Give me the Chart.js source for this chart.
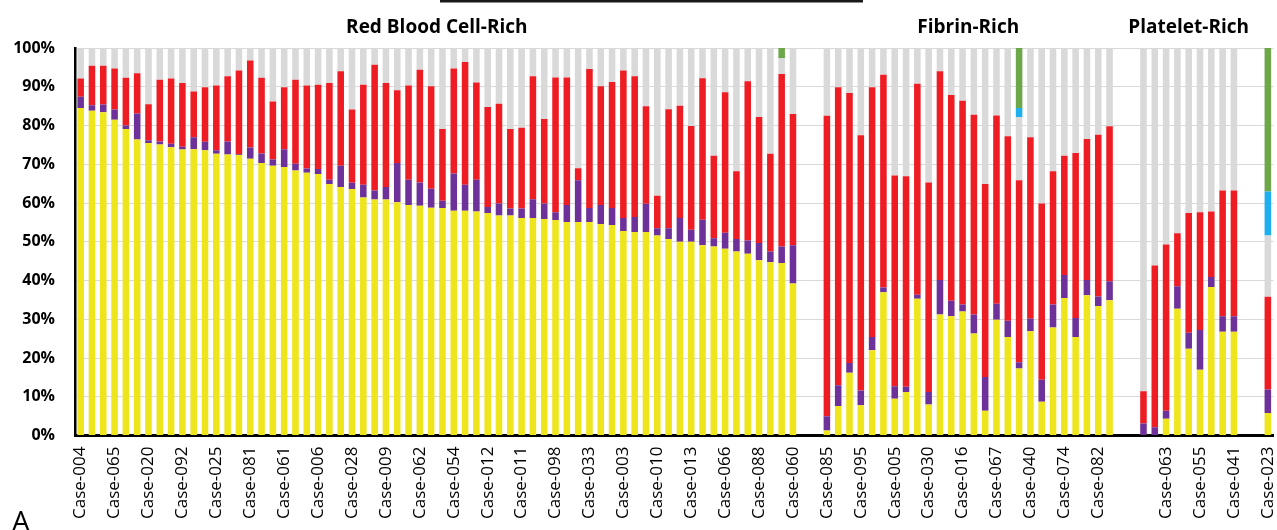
<!DOCTYPE html>
<html>
<head>
<meta charset="utf-8">
<script src="https://cdn.jsdelivr.net/npm/chart.js@4.4.0/dist/chart.umd.min.js"></script>
<style>
  html, body { margin: 0; padding: 0; background: #fff; }
  #wrap { width: 1277px; height: 530px; }
</style>
</head>
<body>
<div id="wrap"><canvas id="grafico" width="1277" height="530"></canvas></div>
<script>
// Colours
const COR_AMARELO = '#EFE51C';
const COR_ROXO = '#6E3199';
const COR_VERMELHO = '#EE1D24';
const COR_CINZA = '#D9D9D9';
const COR_AZUL = '#1EB0EE';
const COR_VERDE = '#6EA64A';

// Red Blood Cell-Rich (64 cases)
const rbcAmarelo = [84.5, 83.8, 83.4, 81.5, 79.1, 76.4, 75.5, 75.1, 74.4, 73.8,
    73.9, 73.6, 72.7, 72.5, 72.4, 71.4, 70.3, 69.6, 69.3, 68.4,
    67.8, 67.5, 64.9, 64.1, 63.6, 61.4, 60.9, 60.9, 60.2, 59.5,
    59.3, 58.8, 58.7, 58.0, 58.0, 57.8, 57.4, 56.8, 56.8, 56.1,
    56.1, 55.9, 55.6, 55.1, 55.1, 55.1, 54.6, 54.3, 52.8, 52.5,
    52.5, 51.6, 50.7, 50.0, 50.0, 49.1, 48.8, 48.2, 47.5, 46.9,
    45.2, 44.7, 44.5, 39.2];
const rbcRoxo = [2.9, 1.4, 2.0, 2.6, 0.9, 6.7, 0.7, 0.8, 0.9, 0.7,
    3.1, 2.2, 0.9, 3.4, 0.2, 2.9, 2.5, 1.6, 4.6, 1.7,
    1.1, 1.3, 1.1, 5.5, 1.6, 3.3, 2.3, 3.2, 10.1, 6.5,
    6.0, 4.9, 1.9, 9.6, 6.7, 8.2, 1.6, 3.1, 1.8, 2.5,
    4.9, 4.0, 2.0, 4.4, 10.8, 3.6, 4.9, 4.4, 3.3, 3.9,
    7.3, 1.9, 2.8, 6.1, 3.1, 6.6, 2.1, 4.1, 3.2, 3.4,
    4.5, 2.8, 4.3, 9.9];
const rbcVermelho = [4.7, 10.2, 10.0, 10.6, 12.3, 10.4, 9.3, 15.9, 16.8, 16.5,
    11.8, 14.1, 16.7, 16.8, 21.6, 22.5, 19.5, 15.0, 16.0, 21.7,
    21.4, 21.7, 25.0, 24.4, 18.9, 25.8, 32.5, 26.9, 18.8, 24.3,
    29.1, 26.4, 18.5, 27.1, 31.7, 25.1, 25.8, 25.7, 20.5, 20.8,
    31.7, 21.8, 34.8, 32.9, 3.1, 35.9, 30.6, 32.5, 38.1, 36.3,
    25.2, 8.4, 30.7, 29.0, 26.8, 36.5, 21.3, 36.3, 17.5, 41.1,
    32.5, 25.2, 44.5, 33.9];
const rbcAzul = Array(64).fill(0);
const rbcVerde = [0, 0, 0, 0, 0, 0, 0, 0, 0, 0, 0, 0, 0, 0, 0, 0, 0, 0, 0, 0,
    0, 0, 0, 0, 0, 0, 0, 0, 0, 0, 0, 0, 0, 0, 0, 0, 0, 0, 0, 0,
    0, 0, 0, 0, 0, 0, 0, 0, 0, 0, 0, 0, 0, 0, 0, 0, 0, 0, 0, 0,
    0, 0, 2.6, 0];

// Fibrin-Rich (26 cases)
const fibAmarelo = [1.3, 7.6, 16.2, 7.8, 22.0, 37.0, 9.5, 11.2, 35.3, 8.0,
    31.2, 30.8, 32.0, 26.3, 6.4, 29.9, 25.4, 17.3, 26.9, 8.7,
    27.9, 35.5, 25.4, 36.2, 33.4, 34.9];
const fibRoxo = [3.7, 5.4, 2.5, 3.8, 3.4, 1.2, 3.2, 1.4, 1.0, 3.2,
    8.9, 4.0, 1.8, 4.9, 8.7, 4.1, 4.2, 1.6, 3.2, 5.7,
    5.9, 5.9, 4.9, 3.9, 2.5, 4.9];
const fibVermelho = [77.5, 76.9, 69.7, 65.9, 64.5, 54.9, 54.4, 54.3, 54.5, 54.1,
    53.9, 53.1, 52.6, 51.6, 49.8, 48.6, 47.6, 47.0, 46.9, 45.5,
    34.4, 30.8, 42.6, 36.4, 41.7, 40.0];
const fibAzul = [0, 0, 0, 0, 0, 0, 0, 0, 0, 0, 0, 0, 0, 0, 0, 0, 0, 2.3, 0, 0,
    0, 0, 0, 0, 0, 0];
const fibVerde = [0, 0, 0, 0, 0, 0, 0, 0, 0, 0, 0, 0, 0, 0, 0, 0, 0, 15.5, 0, 0,
    0, 0, 0, 0, 0, 0];

// Platelet-Rich (9 cases) + Case-023 placed apart
const plaAmarelo = [0, 0, 4.3, 32.7, 22.4, 17.0, 38.3, 26.8, 26.8];
const plaRoxo = [3.1, 2.1, 2.1, 5.8, 4.1, 10.2, 2.6, 4.0, 4.0];
const plaVermelho = [8.3, 41.8, 42.9, 13.7, 30.9, 30.4, 16.9, 32.4, 32.4];
const plaAzul = [0, 0, 0, 0, 0, 0, 0, 0, 0];
const plaVerde = [0, 0, 0, 0, 0, 0, 0, 0, 0];

const extraAmarelo = [5.8];
const extraRoxo = [6.1];
const extraVermelho = [23.9];
const extraAzul = [11.4];
const extraVerde = [37.0];

// Tick labels shown on the axis (one every third slot, gaps included)
const rotulosEixo = [
    'Case-004', 'Case-065', 'Case-020', 'Case-092', 'Case-025', 'Case-081',
    'Case-061', 'Case-006', 'Case-028', 'Case-009', 'Case-062', 'Case-054',
    'Case-012', 'Case-011', 'Case-098', 'Case-033', 'Case-003', 'Case-010',
    'Case-013', 'Case-066', 'Case-088', 'Case-060',
    'Case-085', 'Case-095', 'Case-005', 'Case-030', 'Case-016', 'Case-067',
    'Case-040', 'Case-074', 'Case-082',
    '',
    'Case-063', 'Case-055', 'Case-041', 'Case-023'
];
const yTicks = [0, 10, 20, 30, 40, 50, 60, 70, 80, 90, 100];

const GAP = 2; // empty slots between blocks

// Blocks in axis order
const blocos = [
    { titulo: 'Red Blood Cell-Rich', a: rbcAmarelo, r: rbcRoxo, v: rbcVermelho, az: rbcAzul, ve: rbcVerde },
    { titulo: 'Fibrin-Rich', a: fibAmarelo, r: fibRoxo, v: fibVermelho, az: fibAzul, ve: fibVerde },
    { titulo: 'Platelet-Rich', a: plaAmarelo, r: plaRoxo, v: plaVermelho, az: plaAzul, ve: plaVerde },
    { titulo: '', a: extraAmarelo, r: extraRoxo, v: extraVermelho, az: extraAzul, ve: extraVerde }
];

// Build flat series with gaps
const serieAmarelo = [], serieRoxo = [], serieVermelho = [], serieCinza = [], serieAzul = [], serieVerde = [];
const titulos = [];
blocos.forEach((b, k) => {
    if (k > 0) {
        for (let g = 0; g < GAP; g++) {
            [serieAmarelo, serieRoxo, serieVermelho, serieCinza, serieAzul, serieVerde].forEach(s => s.push(null));
        }
    }
    const inicio = serieAmarelo.length;
    b.a.forEach((val, i) => {
        serieAmarelo.push(val);
        serieRoxo.push(b.r[i]);
        serieVermelho.push(b.v[i]);
        serieAzul.push(b.az[i]);
        serieVerde.push(b.ve[i]);
        // gray = the rest of the 100%
        serieCinza.push(+(100 - val - b.r[i] - b.v[i] - b.az[i] - b.ve[i]).toFixed(1));
    });
    if (b.titulo) titulos.push({ texto: b.titulo, de: inicio, ate: serieAmarelo.length - 1 });
});

const categorias = serieAmarelo.map((_, i) => (i % 3 === 0 ? rotulosEixo[i / 3] : ''));

// Group titles, top line and panel letter
const extrasPlugin = {
    id: 'extras',
    afterDraw(chart) {
        const ctx = chart.ctx;
        const x = chart.scales.x;
        ctx.save();
        ctx.fillStyle = '#000';
        ctx.font = 'bold 19px "Open Sans"';
        ctx.textAlign = 'center';
        ctx.textBaseline = 'alphabetic';
        titulos.forEach(t => {
            const cx = (x.getPixelForValue(t.de) + x.getPixelForValue(t.ate)) / 2;
            ctx.fillText(t.texto, cx, 33);
        });
        ctx.fillStyle = '#1a1a1a';
        ctx.fillRect(440, 0, 423, 2.5);
        ctx.fillStyle = '#000';
        ctx.font = '28px "Open Sans"';
        ctx.textAlign = 'left';
        ctx.fillText('A', 12, 531);
        ctx.restore();
    }
};

const ds = (label, data, cor) => ({
    label, data, backgroundColor: cor, borderWidth: 0,
    barPercentage: 0.58, categoryPercentage: 1.0
});

const ctx = document.getElementById('grafico').getContext('2d');
const grafico = new Chart(ctx, {
    type: 'bar',
    data: {
        labels: categorias,
        datasets: [
            ds('Yellow', serieAmarelo, COR_AMARELO),
            ds('Purple', serieRoxo, COR_ROXO),
            ds('Red', serieVermelho, COR_VERMELHO),
            ds('Gray', serieCinza, COR_CINZA),
            ds('Blue', serieAzul, COR_AZUL),
            ds('Green', serieVerde, COR_VERDE)
        ]
    },
    options: {
        responsive: false,
        animation: false,
        layout: { padding: { top: 48, right: 3.5, left: 0, bottom: 0 } },
        plugins: {
            legend: { display: false },
            tooltip: { enabled: false }
        },
        scales: {
            x: {
                stacked: true,
                grid: { drawOnChartArea: false, drawTicks: false },
                border: { display: true, color: '#000', width: 3 },
                ticks: {
                    autoSkip: false,
                    minRotation: 90,
                    maxRotation: 90,
                    padding: 11,
                    color: '#000',
                    font: { family: '"Open Sans"', size: 17 }
                },
                afterFit: s => {
                    s.height = 94.5;
                    s.paddingLeft = 0;
                    s.paddingRight = 0;
                }
            },
            y: {
                stacked: true,
                min: 0,
                max: 100,
                afterBuildTicks: s => { s.ticks = yTicks.map(v => ({ value: v })); },
                grid: { color: '#D9D9D9', lineWidth: 1, drawTicks: false },
                border: { display: true, color: '#000', width: 2.5 },
                ticks: {
                    padding: 20,
                    color: '#000',
                    font: { family: '"Open Sans"', size: 16, weight: 'bold' },
                    callback: v => v + '%'
                },
                afterFit: s => {
                    s.width = 75;
                    s.paddingTop = 0;
                    s.paddingBottom = 0;
                }
            }
        }
    },
    plugins: [extrasPlugin]
});
</script>
</body>
</html>
